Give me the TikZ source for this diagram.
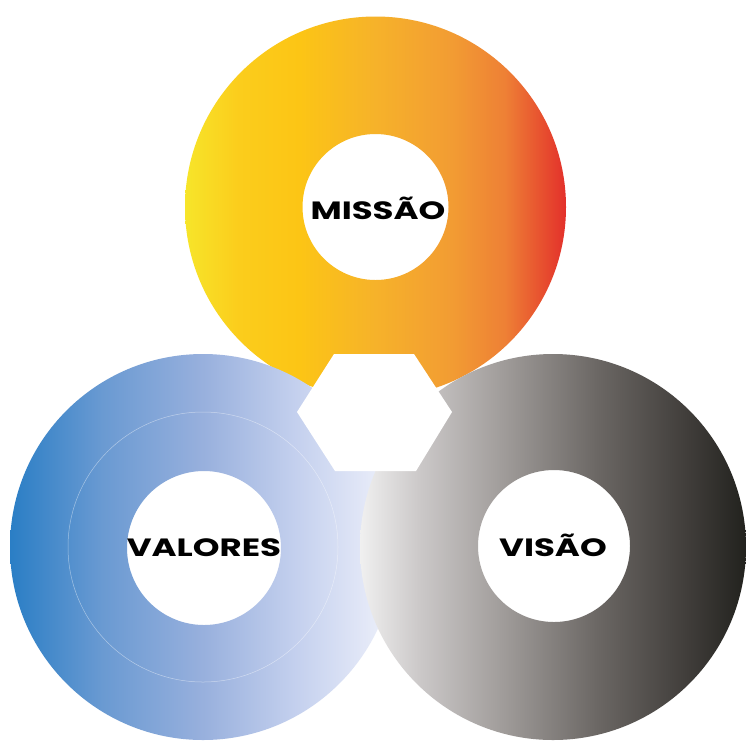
\documentclass[tikz,border=0pt]{standalone}
\usepackage{fontspec}
\newfontfamily\widefont[FakeStretch=1.36]{Poppins Bold}
\definecolor{yel}{HTML}{F7E52A}
\definecolor{yelB}{HTML}{FBCD1C}
\definecolor{yelC}{HTML}{FCC515}
\definecolor{orA}{HTML}{F6B22A}
\definecolor{orB}{HTML}{F29C33}
\definecolor{orC}{HTML}{EE8035}
\definecolor{redE}{HTML}{E3302B}
\definecolor{blA}{HTML}{2A7EC5}
\definecolor{blB}{HTML}{6A9AD2}
\definecolor{blC}{HTML}{98B0DD}
\definecolor{blD}{HTML}{C4D0EE}
\definecolor{blE}{HTML}{F0F2FB}
\definecolor{grA}{HTML}{F0F0F0}
\definecolor{grB}{HTML}{CAC7C7}
\definecolor{grC}{HTML}{A29E9C}
\definecolor{grD}{HTML}{6A6663}
\definecolor{grE}{HTML}{3E3B38}
\definecolor{grF}{HTML}{22221E}
\pgfdeclarehorizontalshading{topshade}{100bp}{color(0bp)=(yel); color(25bp)=(yel); color(32bp)=(yelB); color(40bp)=(yelC); color(50bp)=(orA); color(60bp)=(orB); color(67bp)=(orC); color(75bp)=(redE); color(100bp)=(redE)}
\pgfdeclarehorizontalshading{blueshade}{100bp}{color(0bp)=(blA); color(25bp)=(blA); color(37bp)=(blB); color(50bp)=(blC); color(62bp)=(blD); color(75bp)=(blE); color(100bp)=(blE)}
\pgfdeclarehorizontalshading{grayshade}{100bp}{color(0bp)=(grA); color(25bp)=(grA); color(33bp)=(grB); color(43bp)=(grC); color(56bp)=(grD); color(68bp)=(grE); color(75bp)=(grF); color(100bp)=(grF)}
\begin{document}
\begin{tikzpicture}[x=1pt,y=-1pt,
  label/.style={font=\widefont\fontsize{25}{25}\selectfont, text=black, inner sep=0pt, anchor=base}]
\useasboundingbox (0,0) rectangle (746,740);
\fill[white] (0,0) rectangle (746,740);
% top ring
\shade[shading=topshade, even odd rule] (375.5,207) circle (190.5pt) (375.5,207) circle (73pt);
% blue ring
\shade[shading=blueshade, even odd rule] (203,547) circle (193pt) (204,548) circle (77pt);
\draw[white, opacity=0.45, line width=0.5pt] (203,547) circle (135pt);
% gray ring
\shade[shading=grayshade, even odd rule] (553,547) circle (193pt) (554,546) circle (76pt);
% hexagon
\fill[white] (297,412) -- (334,354) -- (414,354) -- (452,412) -- (416,471) -- (335,471) -- cycle;
% labels
\node[label] (missao) at (378,219) {MISSÃO};
\node[label] (valores) at (204,556) {VALORES};
\node[label] (visao) at (553,556) {VISÃO};
\end{tikzpicture}
\end{document}
